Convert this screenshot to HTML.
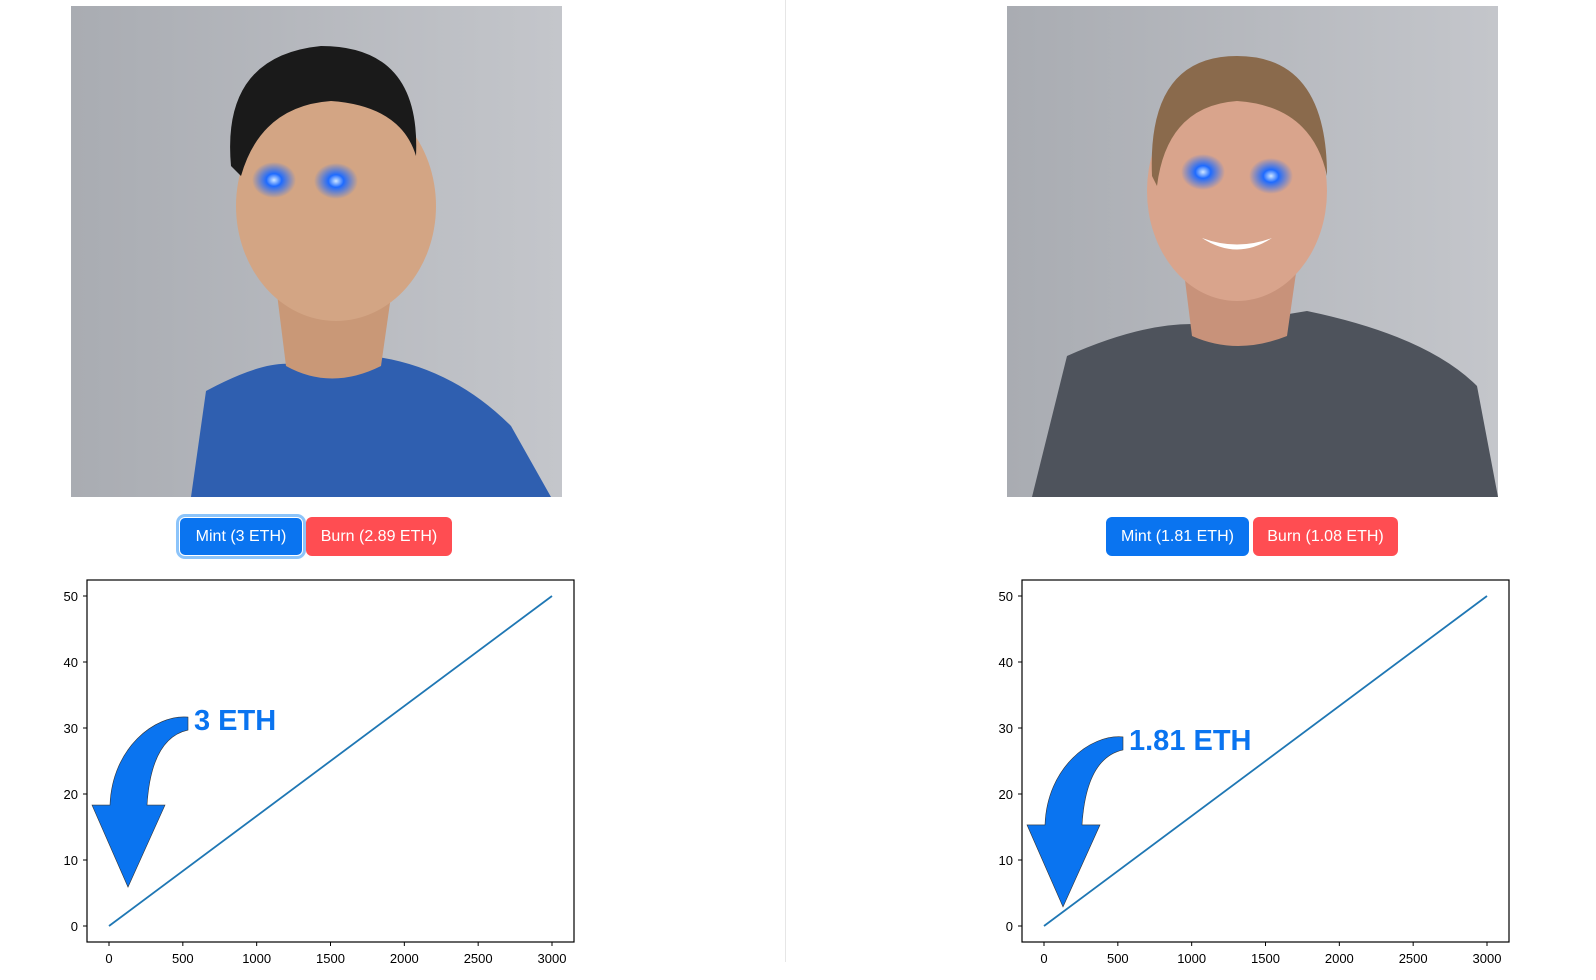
<!DOCTYPE html>
<html><head><meta charset="utf-8">
<style>
body{margin:0;width:1596px;height:980px;background:#fff;font-family:"Liberation Sans",sans-serif;position:relative;overflow:hidden}
.divider{position:absolute;left:785px;top:0;width:1px;height:962px;background:#e6e6e6}
.photo{position:absolute;top:6px;width:491px;height:491px}
.btn{position:absolute;top:517px;height:39px;border-radius:6px;color:#fff;font-size:16px;line-height:39px;text-align:center;border:none}
.mint{background:#0a74f0}
.burn{background:#ff4d52}
.focus{box-shadow:0 0 0 3px #8cc4fa;border:1px solid #fff;box-sizing:border-box;line-height:37px}
svg.chart{position:absolute;top:570px;width:540px;height:410px;overflow:visible}
</style></head><body>
<div class="divider"></div>

<svg class="photo" style="left:71px" viewBox="0 0 491 491">
<defs><radialGradient id="eye" cx="50%" cy="50%" r="50%"><stop offset="0" stop-color="#cfe6ff"/><stop offset="0.35" stop-color="#1e6bff"/><stop offset="1" stop-color="#1e6bff" stop-opacity="0"/></radialGradient>
<linearGradient id="wall" x1="0" x2="1"><stop offset="0" stop-color="#a9acb2"/><stop offset="1" stop-color="#c4c6cb"/></linearGradient></defs>
<rect width="491" height="491" fill="url(#wall)"/>
<path d="M120,491 L135,385 Q200,350 230,360 L300,350 Q380,360 440,420 L480,491Z" fill="#2f5fb0"/>
<path d="M205,280 L215,360 Q260,385 310,360 L320,290Z" fill="#c99877"/>
<ellipse cx="265" cy="200" rx="100" ry="115" fill="#d3a584"/>
<path d="M160,160 Q150,50 250,40 Q350,40 345,150 Q330,100 260,95 Q190,100 170,170Z" fill="#1a1a1a"/>
<ellipse cx="203" cy="174" rx="22" ry="18" fill="url(#eye)"/>
<ellipse cx="265" cy="175" rx="22" ry="18" fill="url(#eye)"/>
</svg>

<svg class="photo" style="left:1007px" viewBox="0 0 491 491">
<rect width="491" height="491" fill="url(#wall)"/>
<path d="M25,491 L60,350 Q150,310 210,320 L300,305 Q420,330 470,380 L491,491Z" fill="#4e535c"/>
<path d="M175,250 L185,330 Q230,350 280,330 L290,260Z" fill="#c8927a"/>
<ellipse cx="230" cy="185" rx="90" ry="110" fill="#d9a48c"/>
<path d="M145,170 Q140,50 230,50 Q320,50 320,170 Q305,100 230,95 Q160,100 150,180Z" fill="#8a6a4c"/>
<ellipse cx="196" cy="166" rx="22" ry="18" fill="url(#eye)"/>
<ellipse cx="264" cy="170" rx="22" ry="18" fill="url(#eye)"/>
<path d="M195,232 Q230,255 265,232 Q230,245 195,232Z" fill="#fff"/>
</svg>

<div class="btn mint focus" style="left:179px;width:124px">Mint (3 ETH)</div>
<div class="btn burn" style="left:306px;width:146px">Burn (2.89 ETH)</div>
<div class="btn mint" style="left:1106px;width:143px">Mint (1.81 ETH)</div>
<div class="btn burn" style="left:1253px;width:145px">Burn (1.08 ETH)</div>

<svg class="chart" id="chartL" style="left:40px"></svg>
<svg class="chart" id="chartR" style="left:975px"></svg>

<script>
const xValues=[0,3000];
const yValues=[0,50];
const xTicks=[0,500,1000,1500,2000,2500,3000];
const yTicks=[0,10,20,30,40,50];
const annLabels=["3 ETH","1.81 ETH"];
const annY=[31.5,28.5];
const NS="http://www.w3.org/2000/svg";
function mk(p,t,a){const e=document.createElementNS(NS,t);for(const k in a)e.setAttribute(k,a[k]);p.appendChild(e);return e;}
function draw(svg,idx,side){
  const bx=47,by=10,bw=487,bh=362;
  const X=v=>69+(v-0)/(3000)*443;
  const Y=v=>356-(v/50)*330;
  const box=mk(svg,'rect',{x:bx,y:by,width:bw,height:bh,fill:'none',stroke:'#000','stroke-width':1.2});
  
  
  xTicks.forEach(t=>{
    mk(svg,'line',{x1:X(t),x2:X(t),y1:by+bh,y2:by+bh+4,stroke:'#000'});
    const tx=mk(svg,'text',{x:X(t),y:by+bh+21,'text-anchor':'middle','font-size':13,fill:'#000'});
    tx.textContent=t;
    
    
  });
  yTicks.forEach(t=>{
    mk(svg,'line',{x1:bx-4,x2:bx,y1:Y(t),y2:Y(t),stroke:'#000'});
    const tx=mk(svg,'text',{x:bx-9,y:Y(t)+5,'text-anchor':'end','font-size':13,fill:'#000'});
    tx.textContent=t;
    
    
  });
  const pts=xValues.map((x,i)=>X(x)+','+Y(yValues[i])).join(' ');
  const ln=mk(svg,'polyline',{points:pts,fill:'none',stroke:'#1f77b4','stroke-width':1.8});
  
  
  const ty=Y(annY[idx]);
  const g=mk(svg,'g',{transform:'translate(0,'+ty+')'});
  const ar=mk(g,'path',{d:'M148,-1 C115,-4 72,30 70,87 L52,87 L88,169 L125,87 L107,87 C110,40 125,17 148,12 Z',fill:'#0a74f0',stroke:'#333','stroke-width':0.6});
  
  
  const at=mk(svg,'text',{x:154,y:ty+12,'font-size':29,'font-weight':'bold',fill:'#0a74f0'});
  at.textContent=annLabels[idx];
  
  
}
draw(document.getElementById('chartL'),0,'left');
draw(document.getElementById('chartR'),1,'right');
</script>
</body></html>
